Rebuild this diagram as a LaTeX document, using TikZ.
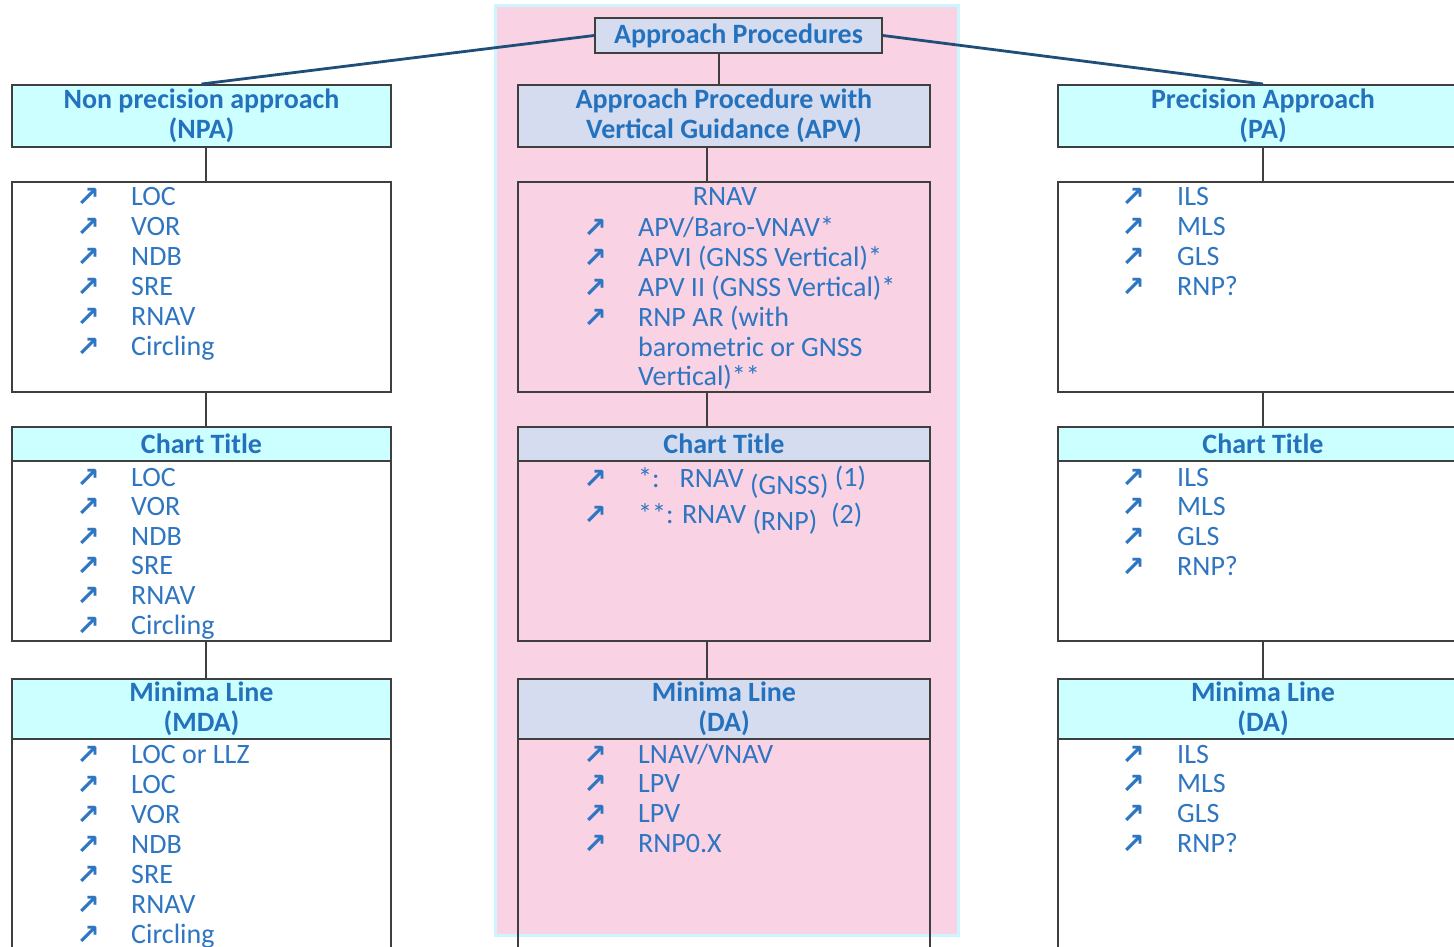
\documentclass[tikz,border=0pt]{standalone}
\usepackage{fontspec}
\setmainfont{Carlito}
\newfontfamily\arrowfont{DejaVu Sans}
\usepackage{xcolor}
\usepackage{tikz}

\definecolor{txtblue}{HTML}{2E75C2}
\definecolor{hdrblue}{HTML}{2472BE}
\definecolor{boxline}{HTML}{3F3F3F}
\definecolor{navy}{HTML}{1F4E79}
\definecolor{npafill}{HTML}{CCFFFF}
\definecolor{apvfill}{HTML}{D5DCEF}
\definecolor{pinkbg}{HTML}{F9D2E4}
\definecolor{pinkedge}{HTML}{CCF5FF}

\newcommand{\nearr}{{\arrowfont\bfseries ↗}}

\begin{document}
\begin{tikzpicture}[x=1pt,y=-1pt,
    hdr/.style={draw=boxline,line width=2pt,fill=npafill,text=hdrblue,
        font=\fontsize{28}{30}\selectfont\bfseries,align=center,inner sep=0pt},
    lst/.style={draw=boxline,line width=2pt,fill=white,inner sep=0pt},
    itm/.style={text=txtblue,font=\fontsize{28}{30}\selectfont,anchor=base west,inner sep=0pt},
    bul/.style={text=txtblue,font=\fontsize{28}{28}\selectfont,anchor=base,inner sep=0pt},
    link/.style={draw=boxline,line width=2pt},
    main/.style={draw=navy,line width=2.8pt}]
        \useasboundingbox (0,0) rectangle (1454,946);

        % pink band behind the APV column
        \draw[fill=pinkbg,draw=pinkedge,line width=3pt] (495,5) rectangle (958,935);

        % top of the tree
        \node[hdr,fill=apvfill,minimum width=287pt,minimum height=35pt] (top) at (738.5,35.5) {Approach Procedures};

        % left column: NPA
        \node[hdr,minimum width=379pt,minimum height=62pt] (npa) at (201.5,116) {Non precision approach\\(NPA)};
        \node[lst,minimum width=379pt,minimum height=210pt] (npalst) at (201.5,287) {};
        \foreach \t [count=\i from 0] in {LOC,VOR,NDB,SRE,RNAV,Circling}{
            \node[bul] (npab\i) at (88,206+30*\i) {\nearr};
            \node[itm] (npat\i) at (131,205+30*\i) {\t};
        }
        \node[hdr,minimum width=379pt,minimum height=34pt] (npact) at (201.5,444) {Chart Title};
        \node[lst,minimum width=379pt,minimum height=180pt] (npactlst) at (201.5,551) {};
        \foreach \t [count=\i from 0] in {LOC,VOR,NDB,SRE,RNAV,Circling}{
            \node[bul] (npacb\i) at (88,487+29.6*\i) {\nearr};
            \node[itm] (npact\i) at (131,486+29.6*\i) {\t};
        }
        \node[hdr,minimum width=379pt,minimum height=60pt] (mda) at (201.5,709) {Minima Line\\(MDA)};
        \node[lst,minimum width=379pt,minimum height=231pt] (mdalst) at (201.5,854.5) {};
        \foreach \t [count=\i from 0] in {LOC or LLZ,LOC,VOR,NDB,SRE,RNAV,Circling}{
            \node[bul] (mdab\i) at (88,764+30*\i) {\nearr};
            \node[itm] (mdat\i) at (131,763+30*\i) {\t};
        }

        % centre column: APV
        \node[hdr,fill=apvfill,minimum width=412pt,minimum height=62pt] (apv) at (724,116) {Approach Procedure with\\Vertical Guidance (APV)};
        \node[lst,fill=none,minimum width=412pt,minimum height=210pt] (apvlst) at (724,287) {};
        \node[itm,anchor=base] (rnav) at (725,205) {RNAV};
        \foreach \t [count=\i from 0] in {APV/Baro-VNAV*,APVI (GNSS Vertical)*,APV II (GNSS Vertical)*,RNP AR (with}{
            \node[bul] (apvb\i) at (595,237+30.3*\i) {\nearr};
            \node[itm] (apvt\i) at (638,236+30.3*\i) {\t};
        }
        \node[itm] (apvt4) at (638,356) {barometric or GNSS};
        \node[itm] (apvt5) at (638,385) {Vertical)**};
        \node[hdr,fill=apvfill,minimum width=412pt,minimum height=34pt] (apvct) at (724,444) {Chart Title};
        \node[lst,fill=none,minimum width=412pt,minimum height=180pt] (apvctlst) at (724,551) {};
        \node[bul] (apvcb0) at (595,488) {\nearr};
        \node[itm] (apvct0) at (638,487) {*:\hspace{20pt}RNAV \raisebox{-7pt}{(GNSS)} \raisebox{1pt}{(1)}};
        \node[bul] (apvcb1) at (595,524) {\nearr};
        \node[itm] (apvct1) at (638,523) {**: RNAV \raisebox{-7pt}{(RNP)}\hspace{14pt}(2)};
        \node[hdr,fill=apvfill,minimum width=412pt,minimum height=60pt] (da) at (724,709) {Minima Line\\(DA)};
        \node[lst,fill=none,minimum width=412pt,minimum height=231pt] (dalst) at (724,854.5) {};
        \foreach \t [count=\i from 0] in {LNAV/VNAV,LPV,LPV,RNP0.X}{
            \node[bul] (dab\i) at (595,764+29.7*\i) {\nearr};
            \node[itm] (dat\i) at (638,763+29.7*\i) {\t};
        }

        % right column: PA
        \node[hdr,minimum width=410pt,minimum height=62pt] (pa) at (1263,116) {Precision Approach\\(PA)};
        \node[lst,minimum width=410pt,minimum height=210pt] (palst) at (1263,287) {};
        \foreach \t [count=\i from 0] in {ILS,MLS,GLS,RNP?}{
            \node[bul] (pab\i) at (1133,206+30.3*\i) {\nearr};
            \node[itm] (pat\i) at (1177,205+30.3*\i) {\t};
        }
        \node[hdr,minimum width=410pt,minimum height=34pt] (pact) at (1263,444) {Chart Title};
        \node[lst,minimum width=410pt,minimum height=180pt] (pactlst) at (1263,551) {};
        \foreach \t [count=\i from 0] in {ILS,MLS,GLS,RNP?}{
            \node[bul] (pacb\i) at (1133,487+29.9*\i) {\nearr};
            \node[itm] (pact\i) at (1177,486+29.9*\i) {\t};
        }
        \node[hdr,minimum width=410pt,minimum height=60pt] (pada) at (1263,709) {Minima Line\\(DA)};
        \node[lst,minimum width=410pt,minimum height=231pt] (padalst) at (1263,854.5) {};
        \foreach \t [count=\i from 0] in {ILS,MLS,GLS,RNP?}{
            \node[bul] (padab\i) at (1133,764+29.7*\i) {\nearr};
            \node[itm] (padat\i) at (1177,763+29.7*\i) {\t};
        }

        % connectors
        \draw[main] (top.west) -- (npa.north);
        \draw[main] (top.east) -- (pa.north);
        \draw[link] ([xshift=-19.5pt]top.south) -- ([xshift=-5pt]apv.north);
        \foreach \a/\b in {npa/npalst,npalst/npact,npactlst/mda}
            \draw[link] ([xshift=4.5pt]\a.south) -- ([xshift=4.5pt]\b.north);
        \foreach \a/\b in {apv/apvlst,apvlst/apvct,apvctlst/da}
            \draw[link] ([xshift=-17pt]\a.south) -- ([xshift=-17pt]\b.north);
        \foreach \a/\b in {pa/palst,palst/pact,pactlst/pada}
            \draw[link] (\a) -- (\b);
\end{tikzpicture}
\end{document}
